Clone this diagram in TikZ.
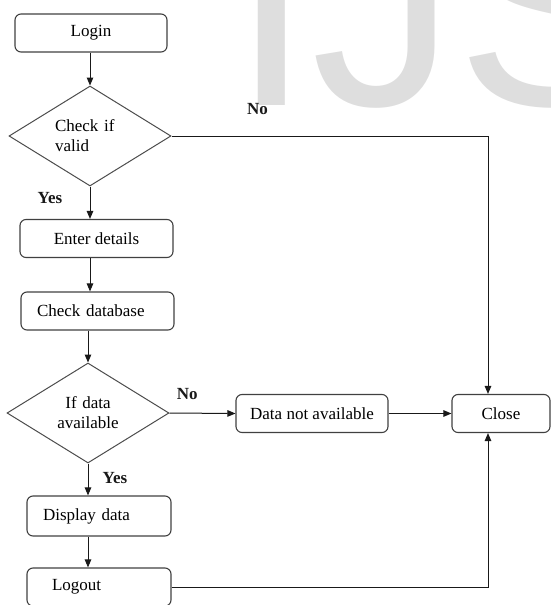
\documentclass[tikz,border=0pt]{standalone}
\usepackage{fontspec}
\setmainfont{Liberation Serif}
\newfontfamily\wmfont{Liberation Sans}
\usetikzlibrary{positioning,arrows.meta,shapes.geometric}

\tikzset{
  procbox/.style={draw=black!75, line width=1.1pt, rounded corners=6pt,
    minimum height=38pt, inner sep=0pt, font=\fontsize{17}{20}\selectfont},
  decide/.style={draw=black!70, line width=1pt, diamond, aspect=1.63,
    minimum width=162pt, minimum height=100pt, inner sep=0pt,
    font=\fontsize{17}{20}\selectfont},
  lbl/.style={font=\fontsize{17}{20}\selectfont\bfseries, inner sep=0pt},
  flow/.style={->, line width=1pt, black!90},
}

\begin{document}
\begin{tikzpicture}[x=1pt, y=-1pt, >={Triangle[length=8pt,width=6.5pt]}]
    \useasboundingbox (0,0) rectangle (551,605);
    %
    \node[anchor=base west, inner sep=0pt, text=black!13,
          font=\wmfont\fontsize{290}{290}\selectfont] (wm) at (231,105) {IJSER};
    %
    \node[procbox, minimum width=152pt] (login) at (91,33) {Login};
    \node[decide, align=left, text width=70pt] (chkvalid) at (90,136) {Check if\\valid};
    \node[procbox, minimum width=153pt] (enter) at (96.5,238.5) {Enter details};
    \node[procbox, align=left, text width=121pt, inner xsep=16pt] (chkdb) at (97.5,311) {Check database};
    \node[decide, align=center, text width=70pt] (dataok) at (88,413) {If data\\available};
    \node[procbox, minimum width=152pt] (nodata) at (312,413.5) {Data not available};
    \node[procbox, minimum width=98pt] (close) at (501,413.5) {Close};
    \node[procbox, align=left, text width=112pt, inner xsep=16pt, minimum height=40pt] (disp) at (99,516) {Display data};
    \node[procbox, align=left, text width=94pt, inner xsep=25pt] (logout) at (99,587) {Logout};
    %
    \draw[flow] (login.south -| chkvalid.north) -- (chkvalid.north);
    \draw[flow] (chkvalid.south) -- node[lbl, pos=0.36, xshift=-40pt] {Yes} (chkvalid.south |- enter.north);
    \draw[flow] (enter.south -| chkvalid.south) -- (chkvalid.south |- chkdb.north);
    \draw[flow] (chkdb.south -| dataok.north) -- (dataok.north);
    \draw[flow] (dataok.south) -- node[lbl, pos=0.45, xshift=27pt] {Yes} (dataok.south |- disp.north);
    \draw[flow] (disp.south -| dataok.south) -- (dataok.south |- logout.north);
    %
    \draw[flow] (chkvalid.east) -| node[lbl, pos=0.136, yshift=27pt] {No} ([xshift=-13pt]close.north);
    \draw[flow] (dataok.east) -- node[lbl, pos=0.27, yshift=19pt] {No} (nodata.west);
    \draw[flow] (nodata) -- (close);
    \draw[flow] (logout.east) -| ([xshift=-13pt]close.south);
\end{tikzpicture}
\end{document}
